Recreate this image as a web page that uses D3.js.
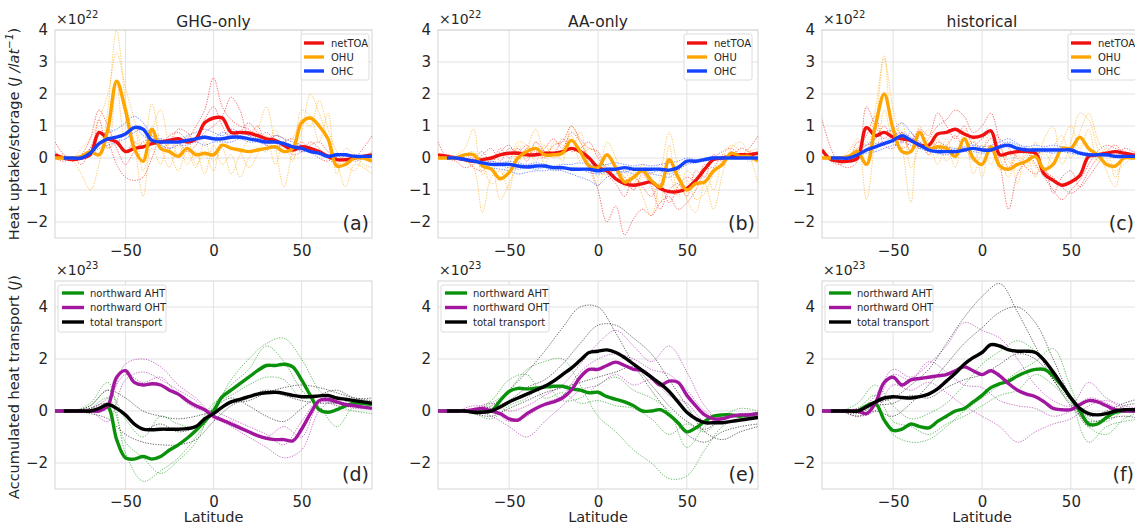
<!DOCTYPE html>
<html><head><meta charset="utf-8">
<script src="https://cdn.jsdelivr.net/npm/d3@7"></script>
<style>body{margin:0;background:#fff}svg{display:block;font-family:"DejaVu Sans",sans-serif}</style>
</head><body><svg id="c" width="1135" height="525"></svg>
<script>
// ---------- data ----------
const lat5 = d3.range(-90, 91, 5);
const lat10 = d3.range(-90, 91, 10);
const titles = ["GHG-only", "AA-only", "historical"];
const topNames = ["netTOA", "OHU", "OHC"];
const botNames = ["northward AHT", "northward OHT", "total transport"];
const topTicksY = [-2, -1, 0, 1, 2, 3, 4];
const botTicksY = [-2, 0, 2, 4];
const ticksX = [-50, 0, 50];
const panelLabels = ["(a)", "(b)", "(c)", "(d)", "(e)", "(f)"];

// (a) GHG-only, x1e22 J/lat
const a_netTOA = [0.1,0.0,-0.05,0.0,0.1,0.8,0.6,0.5,0.2,0.3, 0.35,0.45,0.5,0.55,0.6,0.5,0.6,1.1,1.25,1.25, 0.8,0.8,0.78,0.7,0.6,0.55,0.4,0.25,0.35,0.3, 0.2,0.05,-0.05,-0.05,0.0,0.05,0.1];
const a_OHU = [0.0,0.0,0.0,0.05,0.2,0.1,0.9,2.4,1.5,0.3, -0.1,0.9,0.3,0.2,0.05,0.3,0.1,0.15,0.1,0.4, 0.3,0.25,0.2,0.25,0.3,0.35,0.2,0.3,1.1,1.25, 1.0,0.6,-0.25,-0.2,0.0,0.0,-0.1];
const a_OHC = [null,0.0,0.0,0.0,0.15,0.45,0.6,0.65,0.75,0.95, 0.9,0.55,0.5,0.5,0.5,0.55,0.6,0.65,0.6,0.6, 0.65,0.65,0.6,0.55,0.5,0.5,0.45,0.35,0.3,0.2, 0.15,0.05,0.1,0.1,0.05,0.05,0.05];
const a_netTOA_m1 = [0.5,0.1,-0.1,0.1,0.6,1.5,1.0,0.3,-0.2,0.2, 0.5,0.6,0.4,0.7,0.8,0.6,1.0,1.5,2.5,1.6, 1.2,1.0,0.9,0.6,0.8,0.5,0.2,0.3,0.5,0.2, 0.0,-0.1,0.1,-0.1,0.0,0.3,0.7];
const a_netTOA_m2 = [0.0,-0.1,0.0,-0.2,0.3,0.8,0.5,-0.2,-0.6,-0.7, -0.6,0.0,0.6,0.3,0.5,0.2,0.4,0.8,1.0,1.3, 1.9,1.5,0.7,1.0,0.4,0.7,0.6,0.1,0.2,0.5, 0.3,0.0,-0.2,0.1,-0.1,0.0,0.2];
const a_netTOA_m3 = [0.2,0.0,0.0,0.0,0.1,1.2,0.3,0.5,0.2,0.5, 0.3,0.7,0.3,0.5,0.9,0.8,0.5,1.2,1.6,1.0, 0.6,0.8,1.1,0.8,0.6,0.3,0.5,0.6,0.2,0.4, 0.5,0.2,0.0,-0.1,0.1,0.0,0.1];
const a_OHU_m1 = [0.0,0.0,-0.1,-0.5,-1.0,-0.2,1.5,4.0,1.8,0.5, -1.2,0.8,1.5,0.3,-0.4,0.2,-0.3,0.5,-0.1,0.3, -0.5,0.1,0.6,0.9,1.6,0.4,-0.9,0.2,0.8,2.0, 1.4,0.6,-0.1,-0.9,-0.2,-0.3,-0.5];
const a_OHU_m2 = [0.0,0.1,0.0,0.3,0.6,1.2,2.0,3.3,2.2,1.2, 0.3,1.7,0.4,-0.3,0.5,-0.2,0.2,-0.5,0.4,-0.2, 0.1,-0.6,0.0,0.3,0.2,0.9,0.3,0.6,1.2,1.0, 1.8,0.9,0.2,-0.2,-0.4,0.0,0.1];
const a_OHU_m3 = [0.0,0.0,0.0,0.0,0.2,0.8,0.3,2.3,0.6,0.9, -0.4,0.3,-0.2,0.6,0.1,0.7,-0.2,0.1,-0.4,0.6, 0.3,0.2,-0.3,0.1,0.7,-0.2,0.5,-0.1,1.5,1.3, 0.5,1.4,-0.5,0.3,0.1,-0.2,-0.3];
const a_OHC_m1 = [0,0,0.0,0.05,0.3,0.7,0.8,0.9,1.1,1.3, 1.1,0.7,0.5,0.6,0.5,0.7,0.8,0.9,0.8,0.7, 0.9,0.8,0.7,0.6,0.5,0.7,0.6,0.5,0.4,0.3, 0.2,0.1,0.15,0.1,0.05,0.05,0.05];
const a_OHC_m2 = [0,0,0,0.0,0.1,0.3,0.4,0.5,0.6,0.8, 0.9,0.5,0.4,0.3,0.4,0.4,0.5,0.4,0.5,0.5, 0.5,0.6,0.5,0.5,0.4,0.3,0.4,0.3,0.2,0.2, 0.1,0.0,0.05,0.1,0.05,0,0];
const a_OHC_m3 = [0,0,0,0,0.2,0.5,0.6,0.5,0.8,1.0, 0.7,0.6,0.6,0.5,0.6,0.5,0.6,0.7,0.6,0.8, 0.7,0.7,0.6,0.6,0.6,0.5,0.5,0.4,0.35,0.25, 0.2,0.1,0.1,0.05,0.1,0.05,0.05];

// (b) AA-only
const b_netTOA = [0.1,0.05,0.0,-0.05,-0.1,-0.05,0.0,0.1,0.15,0.15, 0.1,0.1,0.15,0.15,0.2,0.3,0.2,0.0,-0.3,-0.4, -0.65,-0.8,-0.85,-0.8,-0.75,-0.95,-1.05,-1.05,-0.95,-0.7, -0.35,-0.05,0.0,0.05,0.1,0.1,0.15];
const b_OHU = [0,0,0,0.1,0.1,-0.25,-0.35,-0.65,-0.45,0.0, 0.2,0.3,0.1,0.1,0.15,0.55,0.2,-0.25,-0.3,0.1, -0.3,-0.75,-0.6,-0.4,-0.7,-0.9,-0.05,-0.6,-1.0,-0.8, -0.75,-0.4,-0.2,0.15,0.05,0.05,-0.1];
const b_OHC = [null,0.0,0.0,-0.05,-0.1,-0.15,-0.2,-0.2,-0.2,-0.25, -0.28,-0.25,-0.25,-0.3,-0.3,-0.35,-0.35,-0.35,-0.4,-0.35, -0.35,-0.3,-0.35,-0.35,-0.35,-0.35,-0.38,-0.3,-0.1,-0.1, -0.05,0,0,0,0,0,0];
const b_netTOA_m1 = [0.5,0.0,-0.1,-0.3,-0.2,0.1,0.3,-0.1,0.3,0.2, 0.4,0.1,0.3,0.6,0.3,0.8,0.5,-0.2,-1.0,-2.0, -1.5,-2.4,-1.9,-1.6,-1.8,-1.4,-1.2,-1.6,-1.4,-1.0, -0.4,0.0,0.2,0.3,0.1,0.3,0.7];
const b_netTOA_m2 = [0.0,0.1,0.0,0.0,-0.3,-0.4,-0.1,0.2,0.4,0.0, 0.3,0.2,0.0,0.4,0.5,1.0,0.6,0.3,0.2,-0.5, -0.8,-1.2,-0.6,-0.9,-1.2,-0.8,-1.4,-0.9,-0.6,-0.7, -0.2,-0.3,0.1,0.0,0.3,0.2,0.1];
const b_netTOA_m3 = [0.1,0.1,0.0,0.1,0.0,0.2,-0.2,0.3,0.0,0.3, -0.1,0.5,0.2,0.1,0.6,0.2,0.3,0.5,0.0,-0.3, -0.4,-0.6,-1.0,-0.5,-0.9,-1.6,-1.0,-0.8,-1.2,-0.4, -0.6,0.1,-0.1,0.2,0.0,0.1,0.2];
const b_OHU_m1 = [0,0,0.1,0.3,0.9,-0.5,-0.3,-1.3,-0.8,-0.2, 0.3,0.9,0.2,0.3,-0.1,1.0,0.5,0.0,-0.6,0.5, 0.0,-0.9,-0.4,-1.2,-1.8,-0.6,0.8,-0.3,-1.3,-1.7, -0.8,-1.6,-0.5,0.3,0.5,0.1,-0.8];
const b_OHU_m2 = [0,0,0,-0.1,-0.3,-1.7,-0.6,-0.4,-1.0,0.4, 0.0,0.5,-0.2,0.5,0.4,0.3,0.8,-0.3,-0.9,-0.2, -0.7,-0.4,-1.0,-0.6,-0.8,-1.4,0.4,-1.0,-0.7,-1.3, -1.1,-0.5,-0.2,0.1,0.0,0.2,0.3];
const b_OHU_m3 = [0,0,0,0.1,0.2,-0.2,-0.8,-0.6,-0.2,0.5, 0.4,-0.1,0.4,0.0,0.2,0.7,-0.1,0.3,0.1,-0.6, -0.3,-0.6,-0.8,-0.2,-0.5,-0.2,-0.5,-1.2,-0.4,-0.6, -0.3,-1.0,0.0,0.4,0.2,-0.1,0.0];
const b_OHC_m1 = [0,0,0,-0.05,-0.1,-0.2,-0.3,-0.35,-0.4,-0.5, -0.45,-0.4,-0.4,-0.35,-0.4,-0.5,-0.6,-0.7,-0.85,-0.6, -0.5,-0.4,-0.5,-0.45,-0.5,-0.55,-0.6,-0.4,-0.2,-0.15, -0.1,-0.05,0,0,0,0,0];
const b_OHC_m2 = [0,0,0,0,-0.05,-0.1,-0.1,-0.15,-0.1,-0.15, -0.2,-0.15,-0.2,-0.25,-0.2,-0.2,-0.15,-0.2,-0.25,-0.2, -0.15,-0.2,-0.25,-0.2,-0.25,-0.2,-0.15,-0.1,0.0,-0.05, 0.0,0.05,0.0,0.0,0.05,0,0];
const b_OHC_m3 = [0,0,0,0,-0.1,-0.15,-0.2,-0.25,-0.3,-0.35, -0.3,-0.35,-0.3,-0.4,-0.35,-0.3,-0.35,-0.45,-0.5,-0.45, -0.4,-0.45,-0.35,-0.4,-0.45,-0.4,-0.5,-0.35,-0.1,-0.1, -0.05,0,0,0,0,0,0];

// (c) historical
const c_netTOA = [0.25,-0.05,-0.1,-0.1,0.0,0.95,0.7,0.8,0.65,0.6, 0.55,0.4,0.4,0.75,0.8,0.9,0.75,0.65,0.7,0.85, 0.1,0.15,0.2,0.2,0.15,-0.5,-0.7,-0.85,-0.75,-0.55, 0.05,0.1,0.15,0.2,0.15,0.1,0.05];
const c_OHU = [0,0,0,0.05,0.2,-0.2,1.0,2.0,0.9,0.2, 0.2,0.8,0.3,0.35,0.3,0.05,0.6,0.0,-0.2,0.35, -0.25,-0.35,-0.2,-0.1,0.05,-0.35,-0.2,0.3,0.3,0.65, 0.3,0.1,-0.2,-0.25,0.0,0.0,0.0];
const c_OHC = [null,0,0,0,0.1,0.25,0.35,0.45,0.55,0.7, 0.55,0.4,0.25,0.2,0.2,0.2,0.25,0.3,0.25,0.25, 0.35,0.4,0.3,0.25,0.25,0.25,0.25,0.25,0.25,0.15, 0.1,0.1,0.1,0.05,0.05,0.05,0.05];
const c_netTOA_m1 = [1.2,0.3,-0.2,-0.3,-0.1,1.6,1.0,0.6,0.9,0.5, 0.8,0.3,0.6,1.0,1.2,1.5,1.3,0.8,1.0,1.4, 0.5,-0.3,0.2,0.3,-0.2,-0.6,-1.0,-1.3,-1.0,-0.7, -0.2,0.2,0.4,0.3,0.2,0.1,0.0];
const c_netTOA_m2 = [0.3,-0.1,-0.2,0.0,0.3,0.7,1.3,0.4,0.3,0.8, 0.2,0.5,0.1,0.5,0.4,0.7,0.3,0.5,0.3,0.6, -0.2,-1.6,-0.5,-0.1,0.3,-0.4,-0.6,-0.9,-1.1,-0.9, -0.4,0.0,0.2,0.4,0.1,0.0,0.1];
const c_netTOA_m3 = [0.0,0.0,0.0,-0.1,0.5,0.4,0.6,1.0,0.5,0.3, 0.5,0.9,0.7,1.4,1.0,0.6,1.0,0.4,0.6,0.8, 0.6,0.3,0.0,-0.3,-0.5,-0.3,-1.1,-0.6,-0.4,-0.9, -0.6,-0.2,0.1,0.0,0.3,0.2,0.1];
const c_OHU_m1 = [0,0,0,0.1,0.3,-1.3,0.8,3.1,1.5,0.4, -1.4,0.7,0.5,-0.2,0.4,-0.3,0.9,-0.5,0.2,0.8, -0.4,0.2,-0.8,0.4,-0.3,0.6,1.0,-0.2,0.5,1.4, 1.2,0.3,-0.4,-0.9,0.1,0.0,0.0];
const c_OHU_m2 = [0,0,0,0.2,0.6,0.3,1.5,3.2,1.0,0.8, 0.2,1.0,0.1,0.6,-0.1,0.3,0.2,0.6,-0.6,0.4, 0.0,-0.6,0.1,-0.3,0.5,-0.5,0.3,0.7,0.0,0.8, 1.4,0.6,0.0,-0.4,-0.2,0.0,0.0];
const c_OHU_m3 = [0,0,0,0,0.0,0.5,0.2,1.5,0.6,1.1, -0.3,0.4,0.9,0.1,0.6,0.0,0.3,-0.1,0.4,-0.2, 0.3,-0.1,-0.4,0.1,-0.6,0.2,-0.2,0.5,1.0,0.3, 0.9,-0.1,0.3,-0.6,0.0,0.1,0.0];
const c_OHC_m1 = [0,0,0,0.05,0.2,0.4,0.6,0.8,0.9,1.1, 0.8,0.5,0.3,0.3,0.35,0.3,0.35,0.4,0.35,0.4, 0.5,0.6,0.45,0.35,0.4,0.35,0.4,0.35,0.3,0.2, 0.15,0.1,0.1,0.05,0.1,0.05,0.05];
const c_OHC_m2 = [0,0,0,0,0.05,0.15,0.2,0.3,0.4,0.5, 0.4,0.3,0.2,0.15,0.1,0.15,0.2,0.2,0.15,0.2, 0.3,0.35,0.25,0.2,0.15,0.2,0.15,0.2,0.15,0.1, 0.05,0.05,0.1,0.05,0,0,0];
const c_OHC_m3 = [0,0,0,0,0.1,0.3,0.45,0.5,0.7,0.8, 0.65,0.45,0.35,0.25,0.3,0.25,0.3,0.3,0.3,0.3, 0.4,0.5,0.4,0.3,0.3,0.3,0.3,0.3,0.2,0.15, 0.1,0.1,0.05,0.1,0.05,0.05,0.05];

// (d) GHG-only transport, x1e23 J
const d_AHT = [0,0,0,0,0,0.05,0.15,-1.1,-1.8,-1.85, -1.75,-1.85,-1.75,-1.5,-1.3,-1.05,-0.75,-0.4,0.0,0.55, 0.8,1.05,1.3,1.55,1.75,1.75,1.8,1.7,1.2,0.6, 0.05,-0.05,0.05,0.2,0.3,0.3,0.25];
const d_OHT = [0,0,0,0,0,0.0,0.2,1.3,1.55,1.1, 1.0,1.05,1.0,0.8,0.65,0.4,0.2,0.05,-0.2,-0.35, -0.5,-0.65,-0.8,-0.95,-1.05,-1.1,-1.1,-1.15,-0.7,-0.1, 0.4,0.45,0.35,0.25,0.2,0.15,0.1];
const d_total = [null,0,0,0,0,0.1,0.25,0.1,-0.15,-0.5, -0.7,-0.72,-0.7,-0.7,-0.7,-0.68,-0.6,-0.3,-0.1,0.15, 0.35,0.45,0.55,0.65,0.7,0.72,0.68,0.6,0.55,0.55, 0.58,0.6,0.5,0.45,0.4,0.35,0.3];
const d_AHT_m1 = [0,0,0.3,1.1,-1.6,-2.7,-2.3,-1.8,-1.0,0.0,1.2,2.0,2.6,2.8,2.0,0.8,0.2,0.0,-0.1];
const d_AHT_m2 = [0,0,0.1,0.5,-1.2,-1.8,-2.4,-1.9,-1.2,0.2,1.0,1.6,2.5,1.9,0.8,0.2,-0.6,0.2,0.3];
const d_AHT_m3 = [0,0,0.2,0.8,-0.3,-1.0,-0.2,-0.5,-0.6,0.3,0.6,1.0,1.3,1.2,0.5,0.6,0.3,0.4,0.1];
const d_OHT_m1 = [0,0,0.0,0.3,1.8,2.0,1.7,1.0,0.5,-0.2,-0.6,-1.0,-1.4,-1.8,-1.5,0.0,0.5,0.4,0.3];
const d_OHT_m2 = [0,0,0.0,-0.4,1.2,1.5,1.2,0.8,0.4,-0.3,-0.4,-0.8,-1.0,-0.6,-1.0,0.3,0.3,0.1,0.1];
const d_OHT_m3 = [0,0,0.1,0.5,1.4,1.1,1.3,0.6,0.1,0.0,-0.3,-0.6,-0.9,-1.3,-0.4,0.4,0.2,0.2,0.1];
const d_total_m1 = [0,0,0.2,0.8,0.5,0.0,-0.2,-0.3,-0.2,0.0,0.3,0.4,0.7,0.9,1.0,0.9,0.7,0.5,0.4];
const d_total_m2 = [0,0,-0.1,-0.3,-0.9,-1.2,-1.3,-1.3,-1.1,-0.4,0.2,0.5,0.8,0.6,0.4,0.3,0.3,0.2,0.2];
const d_total_m3 = [0,0,0.1,0.3,-0.2,-0.7,-0.5,-0.8,-0.6,0.1,0.5,0.2,-0.2,-0.4,0.1,0.6,0.8,0.5,0.5];

// (e) AA-only transport
const e_AHT = [0,0,0,0,0,0,0.0,0.4,0.75,0.87, 0.85,0.88,0.92,0.95,0.95,0.85,0.8,0.7,0.72,0.55, 0.45,0.35,0.2,0.0,0.0,0.05,-0.15,-0.45,-0.8,-0.65, -0.4,-0.2,-0.15,-0.15,-0.2,-0.15,-0.1];
const e_OHT = [0,0,0,0.0,0.05,0.1,0.0,-0.1,-0.3,-0.35, -0.1,0.1,0.25,0.35,0.5,0.8,1.3,1.6,1.6,1.75, 1.88,1.75,1.6,1.55,1.3,1.0,1.15,1.1,0.6,0.2, -0.15,-0.3,-0.3,-0.2,-0.15,-0.15,-0.1];
const e_total = [null,0,0,0,-0.05,-0.05,0.0,0.15,0.35,0.5, 0.65,0.8,0.95,1.15,1.4,1.65,1.95,2.25,2.3,2.35, 2.25,2.05,1.8,1.55,1.3,1.05,0.75,0.35,-0.05,-0.3, -0.45,-0.45,-0.45,-0.4,-0.35,-0.3,-0.25];
const e_AHT_m1 = [0,0,0.0,0.3,0.8,1.6,1.9,2.0,1.0,-0.2,-0.8,-1.5,-2.0,-2.6,-2.5,-1.5,-0.6,-0.3,-0.2];
const e_AHT_m2 = [0,0,-0.1,-0.3,0.2,0.5,1.0,0.4,0.5,1.0,1.3,0.8,0.5,0.0,-1.4,-0.6,-0.2,0.1,0.0];
const e_AHT_m3 = [0,0,0.0,0.4,1.2,1.4,0.5,0.7,0.3,0.4,0.2,0.1,-0.3,-0.9,-0.5,-0.8,-0.3,-0.2,-0.1];
const e_OHT_m1 = [0,0,0.1,0.3,0.0,0.2,0.6,1.0,1.8,2.6,3.1,2.5,1.9,2.5,1.5,0.2,-0.4,-0.3,-0.2];
const e_OHT_m2 = [0,0,0.0,-0.2,-0.6,-1.0,-0.4,0.2,0.8,1.0,1.4,1.0,1.2,0.6,0.3,-0.4,-0.3,-0.2,-0.1];
const e_OHT_m3 = [0,0,0.2,0.1,-0.4,-0.2,0.3,0.6,1.5,2.0,2.2,2.0,1.6,1.4,0.8,0.0,-0.3,-0.1,-0.1];
const e_total_m1 = [0,0,0.0,0.2,0.8,1.5,2.3,3.2,4.0,4.0,3.0,1.8,0.8,-0.1,-0.9,-1.2,-0.8,-0.6,-0.5];
const e_total_m2 = [0,0,0.0,0.1,0.4,0.9,1.2,1.8,2.6,3.3,3.3,2.8,2.2,1.2,0.2,-0.8,-1.1,-0.8,-0.6];
const e_total_m3 = [0,0,-0.1,-0.2,0.1,0.4,0.7,0.9,1.1,1.3,1.5,1.7,1.0,0.2,-0.4,-0.7,-0.3,-0.2,-0.2];

// (f) historical transport
const f_AHT = [0,0,0,0,0.0,0.2,0.3,-0.35,-0.75,-0.7, -0.5,-0.6,-0.65,-0.4,-0.2,0.0,0.1,0.35,0.6,0.9, 1.05,1.15,1.35,1.5,1.6,1.6,1.35,0.95,0.5,0.0, -0.5,-0.5,-0.25,-0.05,0.0,0.0,0.0];
const f_OHT = [0,0,0,0,0.0,-0.1,0.3,1.1,1.3,1.0, 1.2,1.25,1.3,1.35,1.4,1.55,1.7,1.55,1.4,1.55, 1.35,1.05,0.8,0.65,0.55,0.35,0.1,0.05,0.05,0.25, 0.4,0.35,0.2,0.05,0.0,0.0,0.0];
const f_total = [null,0,0,0,0.0,0.15,0.35,0.5,0.55,0.52, 0.5,0.55,0.65,0.85,1.15,1.45,1.8,2.05,2.25,2.55, 2.5,2.35,2.3,2.3,2.25,1.95,1.5,1.0,0.5,0.1, -0.1,-0.15,-0.1,0.0,0.05,0.05,0.05];
const f_AHT_m1 = [0,0,0.3,1.0,0.2,-0.3,-0.1,0.3,1.0,1.8,2.3,2.7,2.3,1.6,0.4,-1.2,-0.6,-0.4,-0.3];
const f_AHT_m2 = [0,0,0.0,0.2,-0.9,-1.2,-1.1,-0.6,0.0,0.5,1.0,1.5,1.9,2.4,0.9,-0.6,-0.9,-0.3,0.0];
const f_AHT_m3 = [0,0,0.1,0.6,-0.4,-0.6,-0.9,-0.5,-0.2,0.2,0.6,0.8,1.4,1.0,0.3,-0.3,-0.4,0.0,0.1];
const f_OHT_m1 = [0,0,0.0,0.6,1.6,1.3,1.8,2.5,3.4,3.1,2.8,2.0,1.0,0.4,0.2,1.1,0.5,0.2,0.1];
const f_OHT_m2 = [0,0,-0.2,0.0,1.0,0.8,1.1,0.7,0.2,-0.2,-0.6,-1.2,-0.8,-0.5,-0.3,0.2,0.4,0.1,0.0];
const f_OHT_m3 = [0,0,0.1,0.3,1.4,1.2,1.9,1.5,1.0,0.9,0.4,0.2,0.1,-0.2,0.0,0.5,0.3,0.0,0.0];
const f_total_m1 = [0,0,0.0,0.3,0.5,1.0,1.6,2.6,3.6,4.4,4.9,3.8,2.5,1.2,0.4,-0.2,0.0,0.3,0.5];
const f_total_m2 = [0,0,-0.2,0.0,-0.2,0.3,1.0,1.8,2.6,3.2,3.8,4.0,3.4,2.0,0.5,-0.6,-0.3,0.2,0.3];
const f_total_m3 = [0,0,-0.1,0.2,0.3,0.6,0.5,0.9,1.2,1.4,1.8,2.2,2.0,1.2,0.2,-0.4,-0.3,-0.2,-0.3];

// ---------- layout & style ----------
const COL = {red:"#f01010", orange:"#ffa500", blue:"#1443ff", green:"#0a910a", mag:"#a3169f", black:"#000000"};
const TXT = "#262626";
const svg = d3.select("#c");
const defs = svg.append("defs");

const colsX = [[55, 372], [438, 758], [822, 1142]];
const topY = {domain:[-2.5, 4], range:[238, 30]};
const botY = {domain:[-3, 5], range:[489, 281]};
const fmt = d3.format("d");

const topSeries = [
  [{n:topNames[0], c:COL.red, m:a_netTOA, mem:[a_netTOA_m1,a_netTOA_m2,a_netTOA_m3]},
   {n:topNames[1], c:COL.orange, m:a_OHU, mem:[a_OHU_m1,a_OHU_m2,a_OHU_m3]},
   {n:topNames[2], c:COL.blue, m:a_OHC, mem:[a_OHC_m1,a_OHC_m2,a_OHC_m3]}],
  [{n:topNames[0], c:COL.red, m:b_netTOA, mem:[b_netTOA_m1,b_netTOA_m2,b_netTOA_m3]},
   {n:topNames[1], c:COL.orange, m:b_OHU, mem:[b_OHU_m1,b_OHU_m2,b_OHU_m3]},
   {n:topNames[2], c:COL.blue, m:b_OHC, mem:[b_OHC_m1,b_OHC_m2,b_OHC_m3]}],
  [{n:topNames[0], c:COL.red, m:c_netTOA, mem:[c_netTOA_m1,c_netTOA_m2,c_netTOA_m3]},
   {n:topNames[1], c:COL.orange, m:c_OHU, mem:[c_OHU_m1,c_OHU_m2,c_OHU_m3]},
   {n:topNames[2], c:COL.blue, m:c_OHC, mem:[c_OHC_m1,c_OHC_m2,c_OHC_m3]}]
];
const botSeries = [
  [{n:botNames[0], c:COL.green, m:d_AHT, mem:[d_AHT_m1,d_AHT_m2,d_AHT_m3]},
   {n:botNames[1], c:COL.mag, m:d_OHT, mem:[d_OHT_m1,d_OHT_m2,d_OHT_m3]},
   {n:botNames[2], c:COL.black, m:d_total, mem:[d_total_m1,d_total_m2,d_total_m3]}],
  [{n:botNames[0], c:COL.green, m:e_AHT, mem:[e_AHT_m1,e_AHT_m2,e_AHT_m3]},
   {n:botNames[1], c:COL.mag, m:e_OHT, mem:[e_OHT_m1,e_OHT_m2,e_OHT_m3]},
   {n:botNames[2], c:COL.black, m:e_total, mem:[e_total_m1,e_total_m2,e_total_m3]}],
  [{n:botNames[0], c:COL.green, m:f_AHT, mem:[f_AHT_m1,f_AHT_m2,f_AHT_m3]},
   {n:botNames[1], c:COL.mag, m:f_OHT, mem:[f_OHT_m1,f_OHT_m2,f_OHT_m3]},
   {n:botNames[2], c:COL.black, m:f_total, mem:[f_total_m1,f_total_m2,f_total_m3]}]
];

function drawPanel(idx, col, isTop) {
  const [x0, x1] = colsX[col];
  const yc = isTop ? topY : botY;
  const x = d3.scaleLinear().domain([-90, 90]).range([x0, x1]);
  const y = d3.scaleLinear().domain(yc.domain).range(yc.range);
  const yTop = yc.range[1], yBot = yc.range[0];
  const g = svg.append("g");
  const cid = "clip" + idx;
  defs.append("clipPath").attr("id", cid).append("rect")
    .attr("x", x0).attr("y", yTop).attr("width", x1 - x0).attr("height", yBot - yTop);

  // grid
  const yt = isTop ? topTicksY : botTicksY;
  g.selectAll(".gy").data(yt).join("line")
    .attr("x1", x0).attr("x2", x1).attr("y1", d => y(d)).attr("y2", d => y(d))
    .attr("stroke", "#e2e2e2").attr("stroke-width", 1);
  g.selectAll(".gx").data(ticksX).join("line")
    .attr("y1", yTop).attr("y2", yBot).attr("x1", d => x(d)).attr("x2", d => x(d))
    .attr("stroke", "#e2e2e2").attr("stroke-width", 1);
  g.append("rect").attr("x", x0).attr("y", yTop).attr("width", x1 - x0).attr("height", yBot - yTop)
    .attr("fill", "none").attr("stroke", "#d4d4d4").attr("stroke-width", 1);

  // axes (labels only)
  const ax = g.append("g").attr("transform", `translate(0,${yBot})`)
    .call(d3.axisBottom(x).tickValues(ticksX).tickFormat(fmt).tickSize(0).tickPadding(7));
  const ay = g.append("g").attr("transform", `translate(${x0},0)`)
    .call(d3.axisLeft(y).tickValues(yt).tickFormat(fmt).tickSize(0).tickPadding(7));
  [ax, ay].forEach(a => {
    a.select(".domain").remove();
    a.selectAll("text").attr("font-size", 15).attr("fill", TXT).attr("font-family", "DejaVu Sans");
  });

  // lines
  const series = isTop ? topSeries[col] : botSeries[col];
  const plot = g.append("g").attr("clip-path", `url(#${cid})`);
  const memLat = isTop ? lat5 : lat10;
  series.forEach(s => {
    s.mem.forEach(arr => {
      const line = d3.line().defined(d => d[1] != null)
        .x(d => x(d[0])).y(d => y(d[1])).curve(d3.curveCatmullRom.alpha(0.5));
      plot.append("path").datum(memLat.map((l, i) => [l, arr[i]]))
        .attr("d", line).attr("fill", "none").attr("stroke", s.c)
        .attr("stroke-width", 0.9).attr("stroke-dasharray", "1.3,1.3").attr("opacity", 0.65);
    });
  });
  series.forEach(s => {
    const line = d3.line().defined(d => d[1] != null)
      .x(d => x(d[0])).y(d => y(d[1])).curve(d3.curveCatmullRom.alpha(0.5));
    plot.append("path").datum(lat5.map((l, i) => [l, s.m[i]]))
      .attr("d", line).attr("fill", "none").attr("stroke", s.c)
      .attr("stroke-width", 3.4).attr("stroke-linejoin", "round");
  });

  // exponent
  const ex = g.append("text").attr("x", x0 + 1).attr("y", yTop - 6).attr("fill", TXT)
    .attr("font-size", 14);
  ex.append("tspan").text("×10");
  ex.append("tspan").attr("dy", -6).attr("font-size", 10).text(isTop ? "22" : "23");

  // title
  if (isTop) {
    g.append("text").attr("x", (x0 + x1) / 2).attr("y", 27).attr("text-anchor", "middle")
      .attr("font-size", 15.5).attr("fill", TXT).text(titles[col]);
  } else {
    g.append("text").attr("x", (x0 + x1) / 2).attr("y", 522).attr("text-anchor", "middle")
      .attr("font-size", 14.5).attr("fill", TXT).text("Latitude");
  }

  // panel label
  const lx = Math.min(x1 - 3, 1134);
  g.append("text").attr("x", lx).attr("y", yBot - 8).attr("text-anchor", "end")
    .attr("font-size", 19).attr("fill", TXT).text(panelLabels[isTop ? col : col + 3]);

  // legend
  const lg = g.append("g");
  if (isTop) {
    const bx = x0 + 246, by = yTop + 4;
    lg.append("rect").attr("x", bx).attr("y", by).attr("width", 68).attr("height", 46)
      .attr("rx", 2).attr("fill", "#fff").attr("fill-opacity", 0.85).attr("stroke", "#dcdcdc");
    series.forEach((s, i) => {
      const yy = by + 9 + i * 14;
      lg.append("line").attr("x1", bx + 3).attr("x2", bx + 23).attr("y1", yy).attr("y2", yy)
        .attr("stroke", s.c).attr("stroke-width", 3.4);
      lg.append("text").attr("x", bx + 30).attr("y", yy + 3.5).attr("font-size", 10)
        .attr("fill", TXT).text(s.n);
    });
  } else {
    const bx = x0 + 3, by = yTop + 4;
    lg.append("rect").attr("x", bx).attr("y", by).attr("width", 108).attr("height", 47)
      .attr("rx", 2).attr("fill", "#fff").attr("fill-opacity", 0.85).attr("stroke", "#dcdcdc");
    series.forEach((s, i) => {
      const yy = by + 8 + i * 14.5;
      lg.append("line").attr("x1", bx + 4).attr("x2", bx + 26).attr("y1", yy).attr("y2", yy)
        .attr("stroke", s.c).attr("stroke-width", 3.4);
      lg.append("text").attr("x", bx + 32).attr("y", yy + 3.5).attr("font-size", 10)
        .attr("fill", TXT).text(s.n);
    });
  }
}

for (let c = 0; c < 3; c++) { drawPanel(c, c, true); drawPanel(c + 3, c, false); }

// y-axis labels
const yl1 = svg.append("text").attr("transform", "translate(19,134) rotate(-90)")
  .attr("text-anchor", "middle").attr("font-size", 14.5).attr("fill", TXT);
yl1.append("tspan").text("Heat uptake/storage (");
yl1.append("tspan").attr("font-style", "italic").text("J /lat");
yl1.append("tspan").attr("dy", -6).attr("font-size", 10.5).attr("font-style", "italic").text("−1");
yl1.append("tspan").attr("dy", 6).text(")");
const yl2 = svg.append("text").attr("transform", "translate(19,387) rotate(-90)")
  .attr("text-anchor", "middle").attr("font-size", 14.5).attr("fill", TXT);
yl2.append("tspan").text("Accumulated heat transport (");
yl2.append("tspan").attr("font-style", "italic").text("J");
yl2.append("tspan").text(")");
</script></body></html>
